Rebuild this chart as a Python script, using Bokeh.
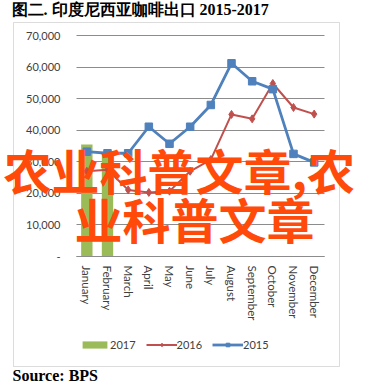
from bokeh.plotting import figure
from bokeh.models import (Range1d, FixedTicker, NumeralTickFormatter, Label,
                          BoxAnnotation, Legend, LegendItem)
from bokeh.embed import file_html
from bokeh.resources import INLINE

# ---- data ----
months = ["January", "February", "March", "April", "May", "June", "July",
          "August", "September", "October", "November", "December"]
exports_2017 = [35500, 32500]
exports_2016 = [27000, 27500, 21100, 20300, 20700, 27000, 30700, 45000,
                43600, 54800, 47200, 45100]
exports_2015 = [33200, 32700, 32700, 41100, 35700, 41100, 48000, 61200,
                55500, 53000, 32500, 29800]
y_ticks = [0, 10000, 20000, 30000, 40000, 50000, 60000, 70000]
series_names = ["2017", "2016", "2015"]
title_text = "图二. 印度尼西亚咖啡出口 2015-2017"
source_text = "Source: BPS"
watermark_1 = "农业科普文章,农"
watermark_2 = "业科普文章"

# ---- layout (canvas pixels) ----
W, H = 389, 388
FL, FR, FT, FB = 76, 324, 35, 256   # plotting area edges
YMAX = 70000
N = len(months)
PXX = (FR - FL) / N                 # px per category
PY = YMAX / (FB - FT)               # value per px

def dx(px):
    return (px - FL) / PXX

def dy(py):
    return (FB - py) * PY

p = figure(width=W, height=H, output_backend="svg", toolbar_location=None,
           x_range=Range1d(dx(0), dx(W)), y_range=Range1d(dy(H), dy(0)),
           min_border_left=0, min_border_right=0,
           min_border_top=0, min_border_bottom=0)
p.background_fill_color = "white"
p.border_fill_color = "white"
p.outline_line_color = None

xs = [i + 0.5 for i in range(N)]

bars = p.vbar(x=xs[:len(exports_2017)], top=exports_2017, width=0.55,
              color="#9BBB59", line_color=None)
l16 = p.line(xs, exports_2016, line_color="#C0504D", line_width=2)
m16 = p.scatter(xs, exports_2016, marker="diamond", size=8,
                fill_color="#C0504D", line_color="#C0504D")
l15 = p.line(xs, exports_2015, line_color="#4F81BD", line_width=2.8)
m15 = p.scatter(xs, exports_2015, marker="square", size=7.5,
                fill_color="#4F81BD", line_color="#4F81BD")

# axes, pinned to the chart area
p.xaxis.fixed_location = 0
p.xaxis.bounds = (0, N)
p.xaxis.ticker = FixedTicker(ticks=xs)
p.xaxis.major_label_overrides = {x: m for x, m in zip(xs, months)}
p.xaxis.major_label_orientation = "vertical"
p.xaxis.major_label_text_font = "Lato"
p.xaxis.major_label_text_font_size = "11.5px"
p.xaxis.major_label_text_color = "#404040"
p.xaxis.major_label_standoff = 9
p.xaxis.major_tick_out = 0
p.xaxis.major_tick_in = 0
p.xaxis.axis_line_color = "#8C8C8C"
p.xaxis.major_tick_line_color = None
p.xaxis.minor_tick_line_color = None

p.yaxis.fixed_location = 0
p.yaxis.bounds = (0, YMAX)
p.yaxis.ticker = FixedTicker(ticks=y_ticks)
p.yaxis.formatter = NumeralTickFormatter(format="0,0")
p.yaxis.major_label_overrides = {0: "-"}
p.yaxis.major_label_text_font = "Lato"
p.yaxis.major_label_text_font_size = "11px"
p.yaxis.major_label_text_color = "#404040"
p.yaxis.major_label_standoff = 16
p.yaxis.major_tick_out = 0
p.yaxis.major_tick_in = 0
p.yaxis.axis_line_color = None
p.yaxis.major_tick_line_color = None
p.yaxis.minor_tick_line_color = None

p.xgrid.grid_line_color = None
p.ygrid.grid_line_color = "#8C8C8C"
p.ygrid.grid_line_width = 1
p.ygrid.bounds = (0, YMAX)
p.ygrid.cross_bounds = (0, N)

# legend
legend = Legend(items=[
    LegendItem(label=series_names[0], renderers=[bars]),
    LegendItem(label=series_names[1], renderers=[l16, m16]),
    LegendItem(label=series_names[2], renderers=[l15, m15]),
], orientation="horizontal", location=(79, H - 351),
    glyph_width=31, glyph_height=9, label_height=12, label_standoff=0,
    spacing=10, padding=0, margin=0, border_line_color=None,
    background_fill_alpha=0, label_text_font="Lato",
    label_text_font_size="11px", label_text_color="#404040")
p.add_layout(legend)

# outer border box
p.add_layout(BoxAnnotation(left=dx(13), right=dx(339), top=dy(22), bottom=dy(366),
                           fill_alpha=0, line_color="#8C8C8C", line_width=1))

# title and source
p.add_layout(Label(x=dx(11), y=dy(9), text=title_text,
                   text_font="Liberation Serif", text_font_style="bold",
                   text_font_size="16px", text_color="#000000",
                   text_baseline="alphabetic"))
p.add_layout(Label(x=dx(12), y=dy(375), text=source_text,
                   text_font="Liberation Serif", text_font_style="bold",
                   text_font_size="16px", text_color="#000000",
                   text_baseline="alphabetic"))

# watermark overlay
p.add_layout(Label(x=dx(3), y=dy(168), text=watermark_1,
                   text_font="Noto Sans CJK SC", text_font_style="bold",
                   text_font_size="48px", text_color="#FF4A0A",
                   text_baseline="alphabetic"))
p.add_layout(Label(x=dx(74), y=dy(217), text=watermark_2,
                   text_font="Noto Sans CJK SC", text_font_style="bold",
                   text_font_size="48px", text_color="#FF4A0A",
                   text_baseline="alphabetic"))

open("out.html", "w").write(file_html(p, INLINE))
